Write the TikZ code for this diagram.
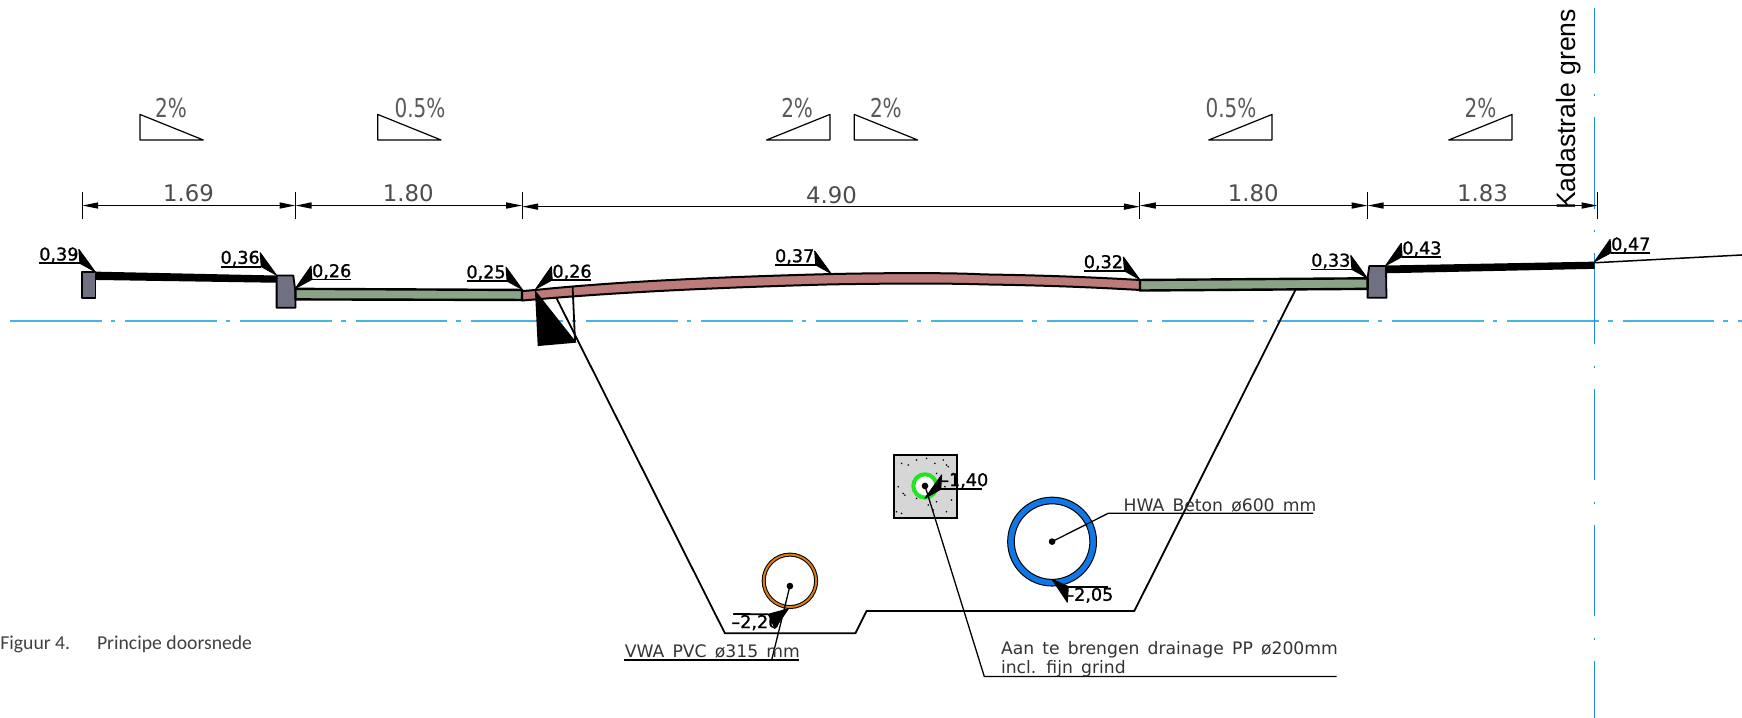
\documentclass[tikz,border=0pt]{standalone}
\usepackage{fontspec}
\usepackage{graphicx}
\usetikzlibrary{arrows.meta}
\setmainfont{DejaVu Sans}
\newfontfamily\arialf{Liberation Sans}
\newfontfamily\capf{Carlito}
\newfontfamily\cadf{DejaVu Sans}
\newfontfamily\notef[WordSpace=1.5]{DejaVu Sans}
\newfontfamily\spotf[FakeBold=1.2]{DejaVu Sans}
\definecolor{kerbgrey}{HTML}{6F7081}
\definecolor{roadgreen}{HTML}{8BA387}
\definecolor{roadred}{HTML}{BC7A79}
\definecolor{cyanline}{HTML}{45B5E5}
\definecolor{blueline}{HTML}{1E84F0}
\definecolor{pipeblue}{HTML}{0F78E6}
\definecolor{pipeorange}{HTML}{DD7A12}
\definecolor{ringgreen}{HTML}{22E422}
\tikzset{
  prof/.style={draw=black,line width=1.2pt,line join=round},
  thinl/.style={draw=black,line width=.9pt},
  lead/.style={draw=black,line width=.65pt},
  flagtip/.style={fill=black,draw=black,line width=.5pt,line join=round},
  dimline/.style={draw=black,line width=.7pt,{Triangle[length=8pt,width=3pt]}-{Triangle[length=8pt,width=3pt]}},
  dimtick/.style={draw=black,line width=.6pt},
  slope/.style={draw=black,line width=.6pt,line join=round},
  cadtxt/.style={inner sep=0pt,text=black!70,font=\cadf\fontsize{11.4}{12}\selectfont},
  pct/.style={inner sep=0pt,text=black!65,font=\cadf\fontsize{13}{14}\selectfont},
  notetxt/.style={inner sep=0pt,text=black!80,font=\notef\fontsize{8.6}{10}\selectfont},
  spot/.style={inner sep=0pt,font=\spotf\fontsize{8.8}{10}\selectfont},
}
\newcommand{\spotL}[4]{%
  \begin{scope}[shift={(#2,#3)}]
    \coordinate (#1t) at (0,0); \coordinate (#1a) at (-14.5,-20);
    \coordinate (#1b) at (-13.5,-7.5); \coordinate (#1c) at (-50,-7.5);
    \path[flagtip] (#1t)--(#1a)--(#1b)--cycle;
    \draw[thinl] (#1b)--(#1c);
    \node[spot] (#1) at (-32.5,-15) {#4};
  \end{scope}}
\newcommand{\spotR}[4]{%
  \begin{scope}[shift={(#2,#3)}]
    \coordinate (#1t) at (0,0); \coordinate (#1a) at (14,-20);
    \coordinate (#1b) at (14.7,-8); \coordinate (#1c) at (50,-8);
    \path[flagtip] (#1t)--(#1a)--(#1b)--cycle;
    \draw[thinl] (#1b)--(#1c);
    \node[spot] (#1) at (32.6,-15) {#4};
  \end{scope}}
\newcommand{\slopeR}[3]{\draw[slope] (#1,103)--(#1+57,126)--(#1,126)--cycle;\node[pct] at (#2,97.5) {\scalebox{.77}[1]{#3}};}
\newcommand{\slopeL}[3]{\draw[slope] (#1,103)--(#1-57,126)--(#1,126)--cycle;\node[pct] at (#2,97.5) {\scalebox{.77}[1]{#3}};}
\begin{document}
\begin{tikzpicture}[x=.55556pt,y=-.55556pt]
\useasboundingbox (0,0) rectangle (1568,646);
% centre line and boundary line
\draw[cyanline,line width=1pt,dash pattern=on 45.9pt off 4.5pt on 2.2pt off 5pt] (9,289)--(1568,289);
\draw[blueline,line width=.65pt,dash pattern=on 45.75pt off 10.75pt on 1pt off 10.5pt,dash phase=13.65pt] (1435,7.5)--(1435,646);
\node[inner sep=0pt,rotate=90,font=\arialf\fontsize{13.3}{14}\selectfont] (kad) at (1411.5,98.5) {Kadastrale grens};
% slope triangles
\slopeR{126}{154}{2\%}
\slopeR{340}{378}{0.5\%}
\slopeL{747}{717.5}{2\%}
\slopeR{769}{797.4}{2\%}
\slopeL{1145}{1108}{0.5\%}
\slopeL{1361}{1332.7}{2\%}
% dimensions
\foreach \n/\x in {0/74,1/266,2/470,3/1026,4/1231,5/1438}{
  \coordinate (dt\n) at (\x,173); \coordinate (db\n) at (\x,197);
  \draw[dimtick] (dt\n)--(db\n);}
\coordinate (d0) at (74,185); \coordinate (d1) at (266,185);
\coordinate (d2a) at (470,185); \coordinate (d2) at (470,186);
\coordinate (d3) at (1026,186); \coordinate (d3a) at (1026,185);
\coordinate (d4) at (1231,185); \coordinate (d5) at (1438,185);
\draw[dimline] (d0)--(d1);
\draw[dimline] (d1)--(d2a);
\draw[dimline] (d2)--(d3);
\draw[dimline] (d3a)--(d4);
\draw[dimline] (d4)--(d5);
\node[cadtxt] at (169.6,174) {1.69};
\node[cadtxt] at (367.5,174) {1.80};
\node[cadtxt] at (748.4,175.5) {4.90};
\node[cadtxt] at (1128,174) {1.80};
\node[cadtxt] at (1334.5,174) {1.83};
% trench
\coordinate (tr0) at (501,268.5); \coordinate (tr1) at (652.5,570); \coordinate (tr2) at (770,570);
\coordinate (tr3) at (780,550); \coordinate (tr4) at (1021,550); \coordinate (tr5) at (1166,261);
\draw[thinl,line width=.9pt,line join=round] (tr0)--(tr1)--(tr2)--(tr3)--(tr4)--(tr5);
% road surface
\fill[black] (86,244.5)--(249,248)--(249,254.5)--(86,252)--cycle;
\fill[black] (1247,239)--(1435.3,235.5)--(1435.3,242)--(1247,246)--cycle;
\draw[line width=.75pt] (1435.3,236.5)--(1568,229.5);
\draw[prof,line width=.9pt,fill=kerbgrey] (74,244.5) rectangle (86,268);
\draw[prof,line width=.9pt,fill=kerbgrey] (249,248)--(264,248)--(266,263)--(266,277)--(249,277)--cycle;
\draw[prof,line width=.9pt,fill=kerbgrey] (1232.5,239.5)--(1247.5,239.5)--(1248,268)--(1231,268)--(1231,250)--cycle;
\draw[prof,fill=roadgreen] (266,260)--(470,261)--(470,270)--(266,269.5)--cycle;
\draw[prof,fill=roadgreen] (1026,252)--(1231,250.5)--(1231,260)--(1026,261.5)--cycle;
\draw[prof,line width=1pt,fill=roadred] (470,262)--(482,261) .. controls (540,255) and (620,250) .. (747,246.7)
   .. controls (800,245.5) and (860,245.5) .. (885,247) .. controls (950,248) and (990,250) .. (1026,252)
   --(1026,261) .. controls (990,259) and (950,257) .. (885,256) .. controls (860,255) and (800,255) .. (747,256)
   .. controls (620,259.5) and (540,264.5) .. (482,269.5)--(470,270.5)--cycle;
% kerb foundation
\fill[black] (481.5,261)--(484,311.5)--(519,308.4)--cycle;
\draw[thinl] (515.4,257.5)--(517.6,307.6);
% spot heights
\spotL{sa}{85.5}{244.5}{0,39}
\spotL{sb}{248.7}{247.5}{0,36}
\spotR{sc}{266}{259.5}{0,26}
\spotL{sd}{470}{260.5}{0,25}
\spotR{se}{482.3}{260}{0,26}
\spotL{sf}{747.8}{246}{0,37}
\spotL{sg}{1025.7}{251.4}{0,32}
\spotL{sh}{1230.4}{250}{0,33}
\spotR{si}{1247.3}{239}{0,43}
\spotR{sj}{1435.3}{235.5}{0,47}
% concrete box with drain
\draw[draw=black,line width=1.1pt,fill=black!16] (804.5,409.5) rectangle (861.7,466.5);
\foreach \zx/\zy in {905/100,925/105,950/90,980/85,1005/100,1040/105,1045/110,895/170,910/190,915/195,950/205,985/225,1010/215,1040/245,1055/210,890/245,905/250,1030/90,1010/130,1035/170,1060/130,1000/240}
  \fill[black] ({804+(\zx-880)*.3},{409+(\zy-73)*.3}) circle (.8);
\draw[ringgreen,line width=2pt,fill=white] (832.6,437.4) circle (10.5);
\coordinate (drainc) at (832.6,437.4); \coordinate (drainb) at (886,609); \coordinate (draine) at (1203,609);
\fill[black] (drainc) circle (3);
\draw[lead] (drainc)--(drainb)--(draine);
\coordinate (fa) at (832.6,448.5); \coordinate (fb) at (847.6,427.5); \coordinate (fc) at (846.7,440.4); \coordinate (fd) at (883.5,440.4);
\path[flagtip] (fa)--(fb)--(fc)--cycle;
\draw[thinl] (fc)--(fd);
\node[spot,anchor=west] (s140) at (846,432.6) {–1,40};
\node[notetxt,anchor=west] (n3) at (900.7,585) {Aan te brengen drainage PP ø200mm};
\node[notetxt,anchor=west] (n4) at (900.7,602) {incl. fijn grind};
% orange pipe
\coordinate (vc) at (711,527.5); \coordinate (ve) at (694.6,594);
\draw[black,line width=2pt] (711,522.8) circle (23.6);
\draw[pipeorange,line width=1pt] (711,522.8) circle (23.6);
\fill[black] (vc) circle (3);
\draw[lead] (vc)--(ve);
\coordinate (va) at (709.6,548); \coordinate (vb) at (697.5,565.6); \coordinate (vd) at (691.6,552.9); \coordinate (vf) at (660,552.7);
\path[flagtip] (va)--(vb)--(vd)--cycle;
\draw[thinl] (vd)--(vf);
\node[spot,anchor=west] (s226) at (658,560.4) {–2,26};
\node[notetxt,anchor=base west] (n1) at (562,592) {VWA PVC ø315 mm};
\draw[lead] (562,594)--(719,594);
% blue pipe
\coordinate (hc) at (947,487.5); \coordinate (hb) at (997.6,462); \coordinate (he) at (1182,462);
\draw[draw=black,line width=.5pt,fill=pipeblue,even odd rule] (hc) circle (40) (hc) circle (34);
\fill[black] (hc) circle (3);
\draw[lead] (hc)--(hb)--(he);
\node[notetxt,anchor=base west] (n2) at (1011,460) {HWA Beton ø600 mm};
\coordinate (ha) at (947,521.5); \coordinate (hf) at (960.7,542); \coordinate (hg) at (961.6,528); \coordinate (hh) at (997.5,528);
\path[flagtip] (ha)--(hf)--(hg)--cycle;
\draw[thinl] (hg)--(hh);
\node[spot,anchor=east] (s205) at (1002.5,535.8) {–2,05};
% caption
\node[inner sep=0pt,anchor=base west,text=black!75,font=\capf\fontsize{9.85}{11}\selectfont] (cap1) at (0,584.5) {Figuur 4.};
\node[inner sep=0pt,anchor=base west,text=black!75,font=\capf\fontsize{9.85}{11}\selectfont] (cap2) at (87,584.5) {Principe doorsnede};
\end{tikzpicture}
\end{document}
